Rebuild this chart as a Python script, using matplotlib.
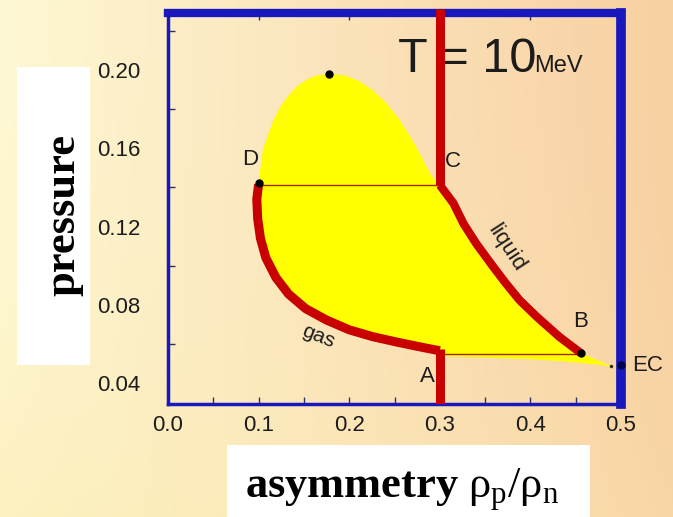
import numpy as np
import matplotlib
matplotlib.use("Agg")
from matplotlib import pyplot as plt
from matplotlib.patches import Rectangle

plt.rcParams['mathtext.fontset'] = 'custom'
plt.rcParams['mathtext.rm'] = 'Liberation Serif'
plt.rcParams['mathtext.it'] = 'Liberation Serif'
plt.rcParams['mathtext.bf'] = 'Liberation Serif:bold'

################ data ################
# upper part of the yellow region, D -> top -> C
dome_x = [0.100, 0.102, 0.105, 0.111, 0.117, 0.124, 0.133, 0.142, 0.153, 0.164, 0.178,
          0.195, 0.210, 0.225, 0.240, 0.255, 0.268, 0.280, 0.290, 0.300]
dome_y = [0.1424, 0.150, 0.160, 0.1676, 0.175, 0.1812, 0.187, 0.1915, 0.195, 0.1972, 0.198,
          0.1972, 0.1945, 0.190, 0.1835, 0.175, 0.1655, 0.1555, 0.1465, 0.1412]
# liquid branch C -> B
liquid_x = [0.300, 0.315, 0.326, 0.340, 0.359, 0.373, 0.388, 0.407, 0.432, 0.456]
liquid_y = [0.1412, 0.1319, 0.1216, 0.1114, 0.0994, 0.0909, 0.0824, 0.0739, 0.0636, 0.0552]
# gas branch D -> A
gas_x = [0.100, 0.098, 0.099, 0.102, 0.108, 0.119, 0.133, 0.152, 0.175, 0.200, 0.226, 0.252, 0.278, 0.300]
gas_y = [0.1415, 0.134, 0.124, 0.114, 0.104, 0.094, 0.0855, 0.078, 0.0722, 0.0672, 0.0637, 0.061, 0.0585, 0.0565]
# thin tail B -> EC and back to A
tail_x = [0.456, 0.489, 0.456, 0.4355, 0.400, 0.303, 0.300]
tail_y = [0.0552, 0.0487, 0.0502, 0.0511, 0.0522, 0.0538, 0.0565]

# black dots: top, D, B, tail tip
dot_x = [0.178, 0.100, 0.456, 0.489]
dot_y = [0.198, 0.1424, 0.0552, 0.0487]
ec_x, ec_y = 0.500, 0.0490

p_DC = 0.1412      # horizontal line D-C
p_AB = 0.0550      # horizontal line A-B
x_AC = 0.300       # vertical red lines

letters = ['D', 'C', 'B', 'A']
letter_x = [0.0904, 0.3139, 0.4553, 0.2859]
letter_y = [0.154, 0.1531, 0.0713, 0.0432]

xticks = [0.0, 0.1, 0.2, 0.3, 0.4, 0.5]
yticks = [0.04, 0.08, 0.12, 0.16, 0.20]
xlo, xhi = 0.0, 0.5
ylo, yhi = 0.0293, 0.2291

red = '#c80000'
blue = '#1818be'
txt = '#1c1c1c'

fig = plt.figure(figsize=(6.73, 5.17), dpi=100)

################ background gradient ################
bg = fig.add_axes([0, 0, 1, 1], zorder=-5)
u = np.linspace(0, 1, 300)[None, :]
v = np.linspace(0, 1, 240)[:, None]   # 0 top, 1 bottom
left_c = np.array([254, 248, 212]) / 255.
right_c = np.array([248, 208, 162]) / 255.
yel_c = np.array([252, 236, 176]) / 255.
grad = left_c * (1 - u[..., None]) + right_c * u[..., None]
w = (v[..., None] ** 2) * 0.55 * (1 - 0.6 * u[..., None])
grad = grad * (1 - w) + yel_c * w
bg.imshow(np.clip(grad, 0, 1), aspect='auto', extent=[0, 1, 0, 1], origin='upper')
bg.set_xlim(0, 1)
bg.set_ylim(0, 1)
bg.axis('off')

# white boxes behind the axis titles
bg.add_patch(Rectangle((17 / 673., 1 - 365 / 517.), 73 / 673., 298 / 517., color='white', lw=0))
bg.add_patch(Rectangle((227 / 673., 0.0), 363 / 673., 72 / 517., color='white', lw=0))

fig.text(63.5 / 673., 1 - 215 / 517., 'pressure', rotation=90, ha='center', va='center',
         fontsize=32, fontweight='bold', family='Liberation Serif', color='black')
fig.text(245 / 673., 1 - 498 / 517., r'asymmetry $\rho_\mathrm{p}/\rho_\mathrm{n}$', ha='left', va='baseline',
         fontsize=32, fontweight='bold', family='Liberation Serif', color='black')

################ main plot ################
ax = fig.add_axes([168 / 673., 1 - 404 / 517., 453 / 673., 391 / 517.])
ax.patch.set_alpha(0)

poly_x = dome_x + liquid_x[1:] + tail_x[1:] + gas_x[::-1][1:]
poly_y = dome_y + liquid_y[1:] + tail_y[1:] + gas_y[::-1][1:]
ax.fill(poly_x, poly_y, color='#ffff00', lw=0, zorder=1)

ax.plot([dome_x[0], x_AC], [p_DC, p_DC], color='#9a2a00', lw=1, zorder=2)
ax.plot([x_AC, liquid_x[-1]], [p_AB, p_AB], color='#9a2a00', lw=1, zorder=2)

ax.plot(gas_x, gas_y, color=red, lw=6.5, solid_capstyle='butt', zorder=4)
ax.plot(liquid_x, liquid_y, color=red, lw=6, solid_capstyle='butt', zorder=4)
ax.plot([x_AC, x_AC], [p_DC, yhi + 0.002], color=red, lw=6.5, solid_capstyle='butt', zorder=4, clip_on=False)
ax.plot([x_AC, x_AC], [gas_y[-1] + 0.001, ylo], color=red, lw=6.5, solid_capstyle='butt', zorder=4)

ax.plot(dot_x[:3], dot_y[:3], 'o', color='black', ms=5, zorder=5)
ax.plot(dot_x[3:], dot_y[3:], 'o', color='#333300', ms=1.5, zorder=5)
ax.plot([ec_x], [ec_y], 'o', color='#000050', ms=5, zorder=6, clip_on=False)

for s, lx, ly in zip(letters, letter_x, letter_y):
    ax.text(lx, ly, s, ha='center', va='center', fontsize=16, family='Liberation Sans', color=txt)
ax.text(0.5127, ec_y, 'EC', ha='left', va='center', fontsize=16, family='Liberation Sans', color=txt, clip_on=False)
ax.text(0.1657, 0.0637, 'gas', rotation=-22, rotation_mode='anchor', ha='center', va='center',
        fontsize=15, family='Liberation Sans', color=txt)
ax.text(0.3734, 0.1088, 'liquid', rotation=-57, rotation_mode='anchor', ha='center', va='center',
        fontsize=16, family='Liberation Sans', color=txt)

ax.text(0.2536, 0.199, 'T = 10', ha='left', va='baseline', fontsize=35, family='Liberation Sans', color=txt, zorder=3)
ax.text(0.4046, 0.199, 'MeV', ha='left', va='baseline', fontsize=17, family='Liberation Sans', color=txt, zorder=3)

ax.set_xlim(xlo, xhi)
ax.set_ylim(ylo, yhi)
ax.set_xticks(xticks)
ax.set_xticklabels(['%.1f' % t for t in xticks])
ax.set_xticks(np.arange(0.05, 0.5, 0.1), minor=True)
ax.set_yticks(yticks)
ax.set_yticklabels(['%.2f' % t for t in yticks])
ax.set_yticks([0.06, 0.10, 0.14, 0.18, 0.22], minor=True)

ax.tick_params(axis='x', which='major', direction='in', length=5, width=1, color='#303060',
               top=True, labelsize=16, labelcolor=txt, pad=8)
ax.tick_params(axis='x', which='minor', direction='in', length=5, width=1, color='#303060', top=False)
ax.tick_params(axis='y', which='major', length=0, labelsize=16, labelcolor=txt, pad=20)
ax.tick_params(axis='y', which='minor', direction='in', length=5, width=1, color='#303060')
for lab in ax.get_xticklabels() + ax.get_yticklabels():
    lab.set_family('Liberation Sans')

ax.spines['top'].set_linewidth(6)
ax.spines['right'].set_linewidth(7)
ax.spines['left'].set_linewidth(2.5)
ax.spines['bottom'].set_linewidth(2.5)
for sp in ax.spines.values():
    sp.set_color(blue)

plt.savefig('out.png', dpi=100)
